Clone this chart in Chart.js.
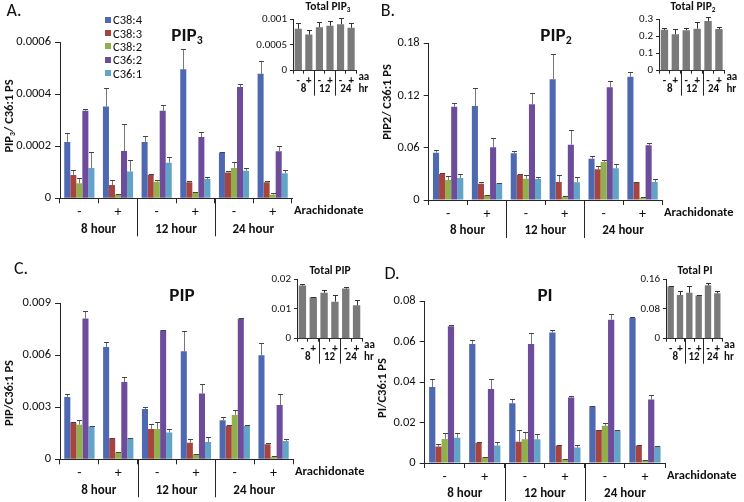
<!DOCTYPE html>
<html>
<head>
<meta charset="utf-8">
<script src="https://cdn.jsdelivr.net/npm/chart.js@4.4.1/dist/chart.umd.min.js"></script>
<style>
  body { margin: 0; background: #fff; }
  #fig { position: relative; width: 744px; height: 502px; overflow: hidden; background: #fff;
         font-family: Carlito, Calibri, Lato, "Liberation Sans", sans-serif; color: #111; }
  canvas { position: absolute; }
  .txt { position: absolute; white-space: nowrap; line-height: 1; transform: translate(-50%, -50%); }
  .letter { font-size: 18px; }
  .title { font-size: 19px; font-weight: bold; }
  .ytitle { font-size: 12.5px; font-weight: bold; transform: translate(-50%, -50%) rotate(-90deg); }
  .itl { font-size: 11.5px; font-weight: bold; }
  sub { font-size: 0.62em; vertical-align: -0.28em; line-height: 0; }
  #legend { position: absolute; left: 105px; top: 13px; font-size: 12.5px; }
  #legend .row { height: 13.4px; display: flex; align-items: center; }
  #legend .sw { width: 6px; height: 6px; margin-right: 2px; }
</style>
</head>
<body>
<div id="fig">
  <canvas id="mainA" width="372" height="251" style="left:0;top:0"></canvas>
  <canvas id="mainB" width="372" height="251" style="left:372px;top:0"></canvas>
  <canvas id="mainC" width="372" height="251" style="left:0;top:251px"></canvas>
  <canvas id="mainD" width="372" height="251" style="left:372px;top:251px"></canvas>
  <canvas id="insetA"></canvas>
  <canvas id="insetB"></canvas>
  <canvas id="insetC"></canvas>
  <canvas id="insetD"></canvas>

  <div class="txt letter" style="left:14px;top:10px">A.</div>
  <div class="txt letter" style="left:388px;top:10px">B.</div>
  <div class="txt letter" style="left:21px;top:268px">C.</div>
  <div class="txt letter" style="left:392px;top:273px">D.</div>

  <div class="txt title" style="left:187px;top:34px">PIP<sub>3</sub></div>
  <div class="txt title" style="left:556px;top:34px">PIP<sub>2</sub></div>
  <div class="txt title" style="left:182px;top:294px">PIP</div>
  <div class="txt title" style="left:545px;top:294px">PI</div>

  <div class="txt ytitle" style="left:9px;top:116px">PIP<sub>3</sub>/ C36:1 PS</div>
  <div class="txt ytitle" style="left:387px;top:102px">PIP2/ C36:1 PS</div>
  <div class="txt ytitle" style="left:9px;top:393px">PIP/C36:1 PS</div>
  <div class="txt ytitle" style="left:382px;top:388px">PI/C36:1 PS</div>

  <div class="txt itl" style="left:328px;top:7px">Total PIP<sub>3</sub></div>
  <div class="txt itl" style="left:693px;top:7px">Total PIP<sub>2</sub></div>
  <div class="txt itl" style="left:330px;top:271px">Total PIP</div>
  <div class="txt itl" style="left:695px;top:271px">Total PI</div>

  <div id="legend"></div>
</div>
<script>
  // ---- data ----
  var conditionLabels = ["-", "+", "-", "+", "-", "+"];
  var hourLabels = ["8 hour", "12 hour", "24 hour"];
  var insetHourLabels = ["8", "12", "24"];
  var speciesNames = ["C38:4", "C38:3", "C38:2", "C36:2", "C36:1"];
  var speciesColors = ["#4E69B2", "#A8443E", "#91B04B", "#6C4C9B", "#62A4C8"];

  // rows follow speciesNames, columns follow conditionLabels
  var pip3Means = [
    [0.000217, 0.000353, 0.000217, 0.000496, 0.000176, 0.000479],
    [0.000090, 0.000051, 0.000091, 0.000062, 0.000099, 0.000062],
    [0.000058, 0.000015, 0.000064, 0.000023, 0.000117, 0.000014],
    [0.000337, 0.000182, 0.000337, 0.000236, 0.000428, 0.000181],
    [0.000117, 0.000103, 0.000137, 0.000074, 0.000106, 0.000096]
  ];
  var pip3Errors = [
    [0.000036, 0.000073, 0.000023, 0.000080, 0.000002, 0.000048],
    [0.000020, 0.000021, 0.000001, 0.000006, 0.000006, 0.000006],
    [0.000021, 0.000001, 0.000006, 0.000002, 0.000024, 0.000005],
    [0.000005, 0.000105, 0.000023, 0.000020, 0.000012, 0.000019],
    [0.000061, 0.000046, 0.000023, 0.000008, 0.000009, 0.000014]
  ];
  var pip2Means = [
    [0.0544, 0.108, 0.0536, 0.1386, 0.0475, 0.1417],
    [0.0299, 0.0188, 0.0290, 0.0207, 0.0352, 0.0207],
    [0.0230, 0.0054, 0.0245, 0.0038, 0.0437, 0.0027],
    [0.107, 0.0605, 0.110, 0.0636, 0.1294, 0.0628],
    [0.0253, 0.0191, 0.0240, 0.0203, 0.0364, 0.0207]
  ];
  var pip2Errors = [
    [0.0030, 0.0210, 0.0030, 0.0290, 0.0030, 0.0053],
    [0.0015, 0.0020, 0.0010, 0.0076, 0.0042, 0.0005],
    [0.0046, 0.0005, 0.0042, 0.0004, 0.0023, 0.0003],
    [0.0040, 0.0103, 0.0130, 0.0168, 0.0076, 0.0022],
    [0.0047, 0.0004, 0.0028, 0.0065, 0.0046, 0.0030]
  ];
  var pipMeans = [
    [0.00360, 0.00648, 0.00290, 0.00623, 0.00225, 0.00600],
    [0.00213, 0.00121, 0.00175, 0.00096, 0.00194, 0.00087],
    [0.00200, 0.000385, 0.00175, 0.00029, 0.00256, 0.00015],
    [0.00813, 0.00446, 0.00744, 0.00380, 0.00813, 0.00313],
    [0.00190, 0.00121, 0.00154, 0.00100, 0.00194, 0.00106]
  ];
  var pipErrors = [
    [0.00019, 0.00027, 0.00010, 0.00117, 0.00019, 0.00073],
    [0.00002, 0.00002, 0.00029, 0.00019, 0.00002, 0.00009],
    [0.00025, 0.00002, 0.00040, 0.00002, 0.00029, 0.00002],
    [0.00041, 0.00027, 0.00002, 0.00057, 0.00002, 0.00062],
    [0.00001, 0.00001, 0.00019, 0.00031, 0.00003, 0.00013]
  ];
  var piMeans = [
    [0.0375, 0.0588, 0.0295, 0.0644, 0.0280, 0.0716],
    [0.0081, 0.0100, 0.0105, 0.0087, 0.0163, 0.0087],
    [0.0119, 0.0028, 0.0117, 0.0018, 0.0184, 0.0013],
    [0.0675, 0.0365, 0.0588, 0.0323, 0.0708, 0.0313],
    [0.0125, 0.0086, 0.0117, 0.0076, 0.0161, 0.0081]
  ];
  var piErrors = [
    [0.0040, 0.0021, 0.0019, 0.0013, 0.0002, 0.0007],
    [0.0011, 0.0005, 0.0060, 0.0001, 0.0001, 0.0001],
    [0.0028, 0.0002, 0.0034, 0.0001, 0.0015, 0.0001],
    [0.0005, 0.0050, 0.0054, 0.0007, 0.0026, 0.0023],
    [0.0025, 0.0016, 0.0028, 0.0011, 0.0002, 0.0001]
  ];

  var pip3Total = [0.00081, 0.00070, 0.00084, 0.00087, 0.00090, 0.00083];
  var pip3TotalErr = [0.00011, 0.00009, 0.00010, 0.00010, 0.00011, 0.00009];
  var pip2Total = [0.237, 0.212, 0.235, 0.244, 0.288, 0.242];
  var pip2TotalErr = [0.009, 0.030, 0.011, 0.037, 0.022, 0.014];
  var pipTotal = [0.0178, 0.0139, 0.0154, 0.0124, 0.0168, 0.0112];
  var pipTotalErr = [0.0006, 0.0001, 0.0008, 0.0022, 0.0005, 0.0017];
  var piTotal = [0.140, 0.117, 0.123, 0.116, 0.143, 0.122];
  var piTotalErr = [0.002, 0.010, 0.019, 0.001, 0.005, 0.007];

  var FONT = "Carlito, Calibri, Lato, 'Liberation Sans', sans-serif";
  var AXIS = "#262626";
  var INK = "#111";

  Chart.defaults.font.family = FONT;
  Chart.defaults.color = INK;

  // upward-only error bars, read from dataset.errors
  var errorBars = {
    id: "errorBars",
    afterDatasetsDraw: function (chart, args, o) {
      var ctx = chart.ctx;
      var y = chart.scales.y;
      ctx.save();
      ctx.lineWidth = 1;
      chart.data.datasets.forEach(function (ds, di) {
        var meta = chart.getDatasetMeta(di);
        meta.data.forEach(function (bar, i) {
          var top = Math.round(y.getPixelForValue(ds.data[i] + ds.errors[i])) + 0.5;
          var x = Math.round(bar.x) + 0.5;
          ctx.strokeStyle = o.color;
          ctx.beginPath();
          ctx.moveTo(x, bar.y);
          ctx.lineTo(x, top);
          ctx.stroke();
          ctx.strokeStyle = o.capColor;
          ctx.beginPath();
          ctx.moveTo(x - o.cap, top);
          ctx.lineTo(x + o.cap, top);
          ctx.stroke();
        });
      });
      ctx.restore();
    }
  };

  // separators between hour groups, hour labels, trailing axis names
  var groupAxis = {
    id: "groupAxis",
    afterDraw: function (chart, args, o) {
      var ctx = chart.ctx;
      var a = chart.chartArea;
      var x = chart.scales.x;
      ctx.save();
      ctx.strokeStyle = AXIS;
      ctx.lineWidth = 1;
      for (var g = 1; g < o.groups.length; g++) {
        var px = Math.round((x.getPixelForValue(2 * g - 1) + x.getPixelForValue(2 * g)) / 2) + 0.5;
        ctx.beginPath();
        ctx.moveTo(px, a.bottom);
        ctx.lineTo(px, a.bottom + o.sepLength);
        ctx.stroke();
      }
      ctx.fillStyle = INK;
      ctx.textBaseline = "middle";
      ctx.textAlign = "center";
      ctx.font = o.groupFont;
      o.groups.forEach(function (label, i) {
        var cx = (x.getPixelForValue(2 * i) + x.getPixelForValue(2 * i + 1)) / 2;
        ctx.fillText(label, cx, a.bottom + o.groupOffset);
      });
      ctx.textAlign = "left";
      ctx.font = o.tailFont;
      ctx.fillText(o.tail, a.right + o.tailGap, a.bottom + o.tickOffset);
      if (o.tail2) ctx.fillText(o.tail2, a.right + o.tailGap, a.bottom + o.groupOffset);
      ctx.restore();
    }
  };

  function tickText(v) {
    return v === 0 ? "0" : String(parseFloat(v.toFixed(6)));
  }

  function makeChart(canvas, cfg) {
    var W = canvas.width, H = canvas.height;
    var l = cfg.area[0], t = cfg.area[1], r = cfg.area[2], b = cfg.area[3];
    return new Chart(canvas, {
      type: "bar",
      data: { labels: conditionLabels, datasets: cfg.datasets },
      options: {
        responsive: false,
        animation: false,
        devicePixelRatio: 1,
        events: [],
        layout: { padding: { left: 0, top: t, right: W - r, bottom: H - b - cfg.xAxisH } },
        datasets: { bar: { categoryPercentage: cfg.catPct, barPercentage: cfg.barPct } },
        plugins: {
          legend: { display: false },
          tooltip: { enabled: false },
          errorBars: cfg.err,
          groupAxis: cfg.group
        },
        scales: {
          x: {
            grid: { offset: true, drawOnChartArea: false, tickLength: cfg.tickLen, color: AXIS },
            border: { color: AXIS },
            ticks: { font: cfg.xFont, color: INK, padding: cfg.xPad, maxRotation: 0, autoSkip: false },
            afterFit: function (s) { s.height = cfg.xAxisH; }
          },
          y: {
            min: 0,
            max: cfg.max,
            grid: { drawOnChartArea: false, tickLength: cfg.tickLen, color: AXIS },
            border: { color: AXIS },
            ticks: { stepSize: cfg.step, font: cfg.yFont, color: INK, padding: cfg.yPad, callback: tickText },
            afterFit: function (s) { s.width = l; }
          }
        }
      },
      plugins: [errorBars, groupAxis]
    });
  }

  function speciesSets(means, errors) {
    return speciesNames.map(function (name, i) {
      return { label: name, data: means[i], errors: errors[i], backgroundColor: speciesColors[i] };
    });
  }

  function mainChart(id, area, max, step, means, errors) {
    makeChart(document.getElementById(id), {
      area: area, max: max, step: step,
      datasets: speciesSets(means, errors),
      xAxisH: 20, tickLen: 5, xPad: 1, yPad: 4,
      catPct: 0.78, barPct: 1,
      xFont: { size: 14 }, yFont: { size: 12.5 },
      err: { color: "#777", capColor: "#444", cap: 2.5 },
      group: {
        groups: hourLabels, sepLength: 38, groupOffset: 31, tickOffset: 12.5,
        groupFont: "bold 13px " + FONT, tailFont: "bold 12.5px " + FONT,
        tail: "Arachidonate", tailGap: 2
      }
    });
  }

  function insetChart(id, area, max, step, values, errors) {
    var canvas = document.getElementById(id);
    var offL = 44, offT = 16;
    var W = area[2] - area[0] + offL + 24;
    var H = area[3] - area[1] + offT + 30;
    canvas.width = W;
    canvas.height = H;
    canvas.style.left = (area[0] - offL) + "px";
    canvas.style.top = (area[1] - offT) + "px";
    makeChart(canvas, {
      area: [offL, offT, area[2] - area[0] + offL, area[3] - area[1] + offT],
      max: max, step: step,
      datasets: [{ label: "Total", data: values, errors: errors, backgroundColor: "#7a7a7a" }],
      xAxisH: 12, tickLen: 3, xPad: 1, yPad: 3,
      catPct: 1, barPct: 0.68,
      xFont: { size: 11, weight: "bold" }, yFont: { size: 11 },
      err: { color: "#333", capColor: "#333", cap: 2.5 },
      group: {
        groups: insetHourLabels, sepLength: 25, groupOffset: 19, tickOffset: 7,
        groupFont: "bold 11px " + FONT, tailFont: "bold 11px " + FONT,
        tail: "aa", tail2: "hr", tailGap: 2
      }
    });
  }

  mainChart("mainA", [60, 42.3, 292, 198.3], 0.0006, 0.0002, pip3Means, pip3Errors);
  mainChart("mainB", [56.7, 43.3, 290, 200], 0.18, 0.06, pip2Means, pip2Errors);
  mainChart("mainC", [60, 52.3, 293, 208.3], 0.009, 0.003, pipMeans, pipErrors);
  mainChart("mainD", [52.7, 50, 293, 212], 0.08, 0.02, piMeans, piErrors);

  insetChart("insetA", [293.3, 19.3, 356.7, 71], 0.001, 0.0005, pip3Total, pip3TotalErr);
  insetChart("insetB", [659.3, 19.3, 724.7, 71], 0.3, 0.1, pip2Total, pip2TotalErr);
  insetChart("insetC", [296.7, 279.3, 361.7, 339], 0.02, 0.01, pipTotal, pipTotalErr);
  insetChart("insetD", [665.7, 279.3, 721.7, 339], 0.16, 0.04, piTotal, piTotalErr);

  var legend = document.getElementById("legend");
  speciesNames.forEach(function (name, i) {
    var row = document.createElement("div");
    row.className = "row";
    var sw = document.createElement("span");
    sw.className = "sw";
    sw.style.background = speciesColors[i];
    var label = document.createElement("span");
    label.textContent = name;
    row.appendChild(sw);
    row.appendChild(label);
    legend.appendChild(row);
  });
</script>
</body>
</html>
